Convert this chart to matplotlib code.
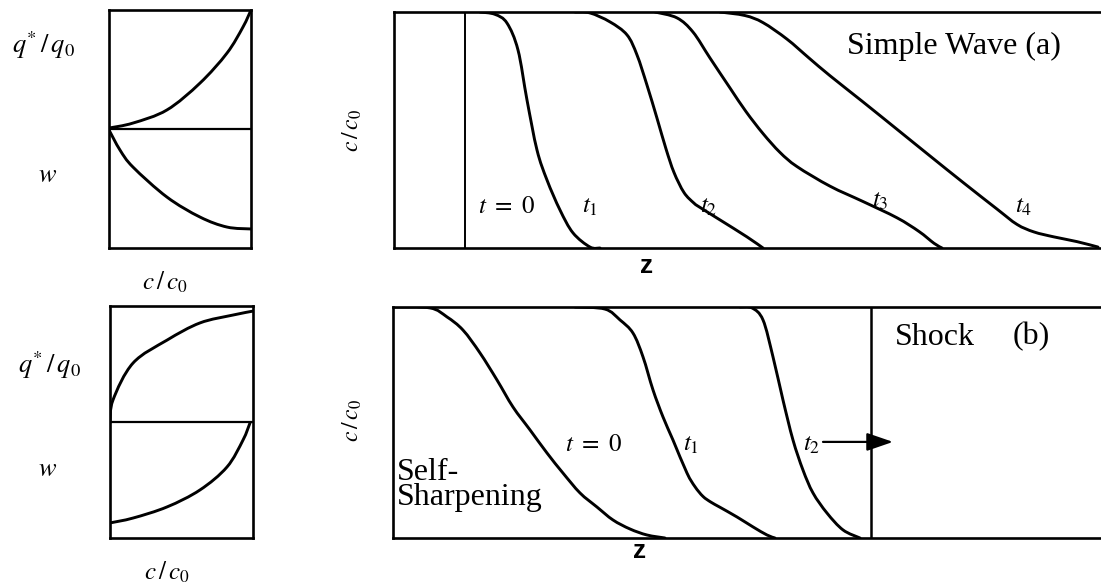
import numpy as np
import matplotlib.pyplot as plt
from matplotlib.path import Path
from matplotlib.patches import PathPatch

plt.rcParams['mathtext.fontset'] = 'stix'
plt.rcParams['font.family'] = ['Liberation Serif', 'DejaVu Serif']

W, H = 1101, 585

# --- isotherm sketches: x = c/c0, y = height in the box (0..1), mid line at 0.5
fav_q_x = [0.0, 0.169, 0.408, 0.641, 0.831, 0.944, 1.0]
fav_q_y = [0.504, 0.525, 0.580, 0.693, 0.819, 0.929, 1.0]
fav_w_x = [0.0, 0.077, 0.169, 0.408, 0.641, 0.831, 1.0]
fav_w_y = [0.496, 0.412, 0.340, 0.214, 0.130, 0.088, 0.080]

unf_q_x = [0.0, 0.021, 0.161, 0.399, 0.629, 0.860, 1.0]
unf_q_y = [0.496, 0.595, 0.754, 0.853, 0.927, 0.961, 0.978]
unf_w_x = [0.0, 0.161, 0.399, 0.629, 0.818, 0.930, 0.979]
unf_w_y = [0.065, 0.086, 0.134, 0.207, 0.306, 0.422, 0.496]

# --- simple wave profiles c/c0 against z
wave_z = [
    [86, 101, 113, 124, 133, 143, 153, 166, 179, 196, 206],
    [181, 196, 216, 233, 243, 253, 263, 272, 280, 290, 300, 306, 326, 353, 369],
    [261, 283, 299, 316, 336, 352, 369, 386, 403, 436, 469, 503, 525, 540, 548],
    [326, 351, 369, 393, 415, 436, 469, 503, 536, 569, 603, 623, 640, 660, 683, 704],
]
wave_c = [
    [1.0, 0.99, 0.953, 0.839, 0.627, 0.415, 0.288, 0.161, 0.064, 0.004, 0.0],
    [1.0, 0.996, 0.958, 0.903, 0.818, 0.690, 0.550, 0.420, 0.320, 0.235, 0.190, 0.172, 0.119, 0.047, 0.0],
    [1.0, 0.975, 0.915, 0.805, 0.678, 0.578, 0.485, 0.405, 0.345, 0.262, 0.197, 0.128, 0.070, 0.020, 0.0],
    [1.0, 0.985, 0.955, 0.885, 0.805, 0.730, 0.619, 0.503, 0.390, 0.278, 0.165, 0.100, 0.068, 0.047, 0.027, 0.004],
]
wave_step_z = 71
wave_labels = [r'$t\ =\ 0$', r'$t_1$', r'$t_2$', r'$t_3$', r'$t_4$']
wave_label_z = [84, 188, 306, 478, 621]
wave_label_c = [0.174, 0.174, 0.174, 0.20, 0.174]

# --- self-sharpening profiles
shock_z = [
    [0, 37, 54, 70, 87, 104, 120, 137, 154, 170, 187, 204, 220, 237, 254, 272],
    [182, 212, 227, 240, 250, 260, 270, 280, 294, 302, 310, 318, 327, 344, 360, 374, 382],
    [347, 359, 370, 380, 390, 400, 410, 420, 434, 450, 467],
]
shock_c = [
    [1.0, 0.996, 0.957, 0.900, 0.801, 0.684, 0.567, 0.468, 0.368, 0.281, 0.195, 0.134, 0.078, 0.039, 0.013, 0.0],
    [1.0, 0.991, 0.944, 0.887, 0.784, 0.641, 0.524, 0.424, 0.281, 0.222, 0.180, 0.155, 0.133, 0.091, 0.048, 0.013, 0.0],
    [1.0, 0.996, 0.944, 0.784, 0.597, 0.424, 0.294, 0.195, 0.108, 0.035, 0.0],
]
shock_front_z = 478
shock_labels = [r'$t\ =\ 0$', r'$t_1$', r'$t_2$']
shock_label_z = [172, 290, 410]
shock_label_c = 0.403

fig = plt.figure(figsize=(W / 100, H / 100), dpi=100)
fig.patch.set_facecolor('white')


def px_axes(l, t, r, b):
    return fig.add_axes([l / W, 1 - b / H, (r - l) / W, (b - t) / H])


def clean(ax, lw=1.9):
    ax.set_xticks([])
    ax.set_yticks([])
    for s in ax.spines.values():
        s.set_linewidth(lw)
        s.set_color('black')


LW = 2.1


def smooth_curve(ax, x, y, lw=LW):
    # Catmull-Rom through the points, drawn as cubic Bezier segments
    p = np.column_stack([x, y]).astype(float)
    ext = np.vstack([p[0], p, p[-1]])
    verts = [p[0]]
    codes = [Path.MOVETO]
    for i in range(1, len(ext) - 2):
        p0, p1, p2, p3 = ext[i - 1], ext[i], ext[i + 1], ext[i + 2]
        verts += [p1 + (p2 - p0) / 6, p2 - (p3 - p1) / 6, p2]
        codes += [Path.CURVE4] * 3
    ax.add_patch(PathPatch(Path(verts, codes), fill=False, edgecolor='black',
                           lw=lw, capstyle='round', joinstyle='round'))


# isotherm boxes
for (l, t, r, b), qx, qy, wx, wy in [
    ((109, 10, 251, 248), fav_q_x, fav_q_y, fav_w_x, fav_w_y),
    ((110, 306, 253, 538), unf_q_x, unf_q_y, unf_w_x, unf_w_y),
]:
    ax = px_axes(l, t, r, b)
    clean(ax)
    ax.set_xlim(0, 1)
    ax.set_ylim(0, 1)
    ax.axhline(0.5, color='black', lw=1.6)
    smooth_curve(ax, qx, qy)
    smooth_curve(ax, wx, wy)

fig.text(44 / W, 1 - 45 / H, r'$q^{*}\,/\,q_0$', fontsize=19, ha='center', va='center')
fig.text(48 / W, 1 - 176 / H, r'$w$', fontsize=19, ha='center', va='center')
fig.text(165 / W, 1 - 282 / H, r'$c\,/\,c_0$', fontsize=18, ha='center', va='center')
fig.text(50 / W, 1 - 365 / H, r'$q^{*}\,/\,q_0$', fontsize=19, ha='center', va='center')
fig.text(48 / W, 1 - 470 / H, r'$w$', fontsize=19, ha='center', va='center')
fig.text(167 / W, 1 - 572 / H, r'$c\,/\,c_0$', fontsize=18, ha='center', va='center')

# simple wave panel
ax = px_axes(394, 12, 1108, 248)
clean(ax)
ax.spines['right'].set_visible(False)
ax.set_xlim(0, 714)
ax.set_ylim(0, 1)
ax.axvline(wave_step_z, color='black', lw=1.4)
for z, c in zip(wave_z, wave_c):
    smooth_curve(ax, z, c)
for s, z, c in zip(wave_labels, wave_label_z, wave_label_c):
    ax.text(z, c, s, fontsize=18, ha='left', va='center')
ax.text(453, 0.852, 'Simple Wave (a)', fontsize=23, ha='left', va='center')
fig.text(352 / W, 1 - 130 / H, r'$c\,/\,c_0$', fontsize=17, rotation=90, ha='center', va='center')
fig.text(647 / W, 1 - 266 / H, 'z', fontsize=19, fontweight='bold',
         family='Liberation Sans', ha='center', va='center')

# self-sharpening panel
ax = px_axes(393, 307, 1108, 538)
clean(ax)
ax.spines['right'].set_visible(False)
ax.set_xlim(0, 715)
ax.set_ylim(0, 1)
ax.axvline(shock_front_z, color='black', lw=1.8)
for z, c in zip(shock_z, shock_c):
    smooth_curve(ax, z, c)
for s, z in zip(shock_labels, shock_label_z):
    ax.text(z, shock_label_c, s, fontsize=18, ha='left', va='center')
ax.annotate('', xy=(shock_front_z + 22, 0.416), xytext=(430, 0.416),
            arrowprops=dict(arrowstyle='-|>,head_length=1.6,head_width=0.55',
                            color='black', lw=1.6, shrinkA=0, shrinkB=0))
ax.text(502, 0.870, 'Shock', fontsize=23, ha='left', va='center')
ax.text(620, 0.870, '(b)', fontsize=23, ha='left', va='center')
ax.text(4, 0.23, 'Self-\nSharpening', fontsize=23, ha='left', va='center', linespacing=0.85)
fig.text(352 / W, 1 - 420 / H, r'$c\,/\,c_0$', fontsize=17, rotation=90, ha='center', va='center')
fig.text(640 / W, 1 - 551 / H, 'z', fontsize=19, fontweight='bold',
         family='Liberation Sans', ha='center', va='center')

fig.savefig('out.png', dpi=100, facecolor='white')
